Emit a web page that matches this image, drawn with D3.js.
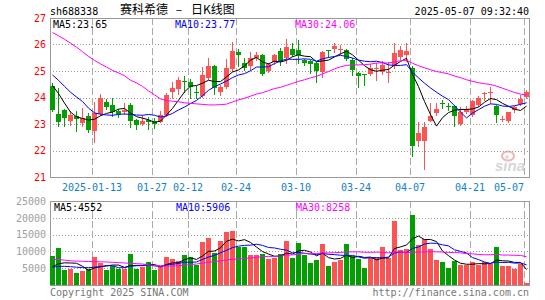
<!DOCTYPE html>
<html>
<head>
<meta charset="utf-8">
<script src="https://cdn.jsdelivr.net/npm/d3@7"></script>
<style>
  body { margin: 0; background: #fff; }
  svg { display: block; }
</style>
</head>
<body>
<div id="chart"></div>
<script>
// trading days shown on the chart
const dates = ['2025-01-02','2025-01-03','2025-01-06','2025-01-07','2025-01-08','2025-01-09','2025-01-10','2025-01-13','2025-01-14','2025-01-15',
  '2025-01-16','2025-01-17','2025-01-20','2025-01-21','2025-01-22','2025-01-23','2025-01-24','2025-01-27','2025-02-05','2025-02-06',
  '2025-02-07','2025-02-10','2025-02-11','2025-02-12','2025-02-13','2025-02-14','2025-02-17','2025-02-18','2025-02-19','2025-02-20',
  '2025-02-21','2025-02-24','2025-02-25','2025-02-26','2025-02-27','2025-02-28','2025-03-03','2025-03-04','2025-03-05','2025-03-06',
  '2025-03-07','2025-03-10','2025-03-11','2025-03-12','2025-03-13','2025-03-14','2025-03-17','2025-03-18','2025-03-19','2025-03-20',
  '2025-03-21','2025-03-24','2025-03-25','2025-03-26','2025-03-27','2025-03-28','2025-03-31','2025-04-01','2025-04-02','2025-04-03',
  '2025-04-07','2025-04-08','2025-04-09','2025-04-10','2025-04-11','2025-04-14','2025-04-15','2025-04-16','2025-04-17','2025-04-18',
  '2025-04-21','2025-04-22','2025-04-23','2025-04-24','2025-04-25','2025-04-28','2025-04-29','2025-04-30','2025-05-06','2025-05-07'];

const open = [24.42,23.39,23.54,23.10,23.29,23.06,23.29,22.71,23.40,23.82,
  23.72,23.49,23.45,23.72,23.16,23.01,23.16,23.12,23.10,23.34,
  24.22,24.33,24.62,24.60,24.22,24.06,24.75,25.19,24.22,24.40,
  25.06,25.70,25.30,25.19,25.48,25.60,24.98,25.35,25.75,25.48,
  25.83,25.79,25.42,25.38,25.29,24.98,25.80,25.81,25.80,25.79,
  25.41,24.91,24.89,24.91,25.10,24.97,24.92,25.19,25.51,25.60,
  25.12,22.35,22.35,23.14,23.41,23.78,23.68,23.69,23.01,23.44,
  23.35,23.72,24.14,24.18,23.69,23.14,23.10,23.54,23.76,24.04];

const high = [24.56,24.34,23.56,23.48,23.48,23.61,23.42,23.84,24.13,23.95,
  23.99,23.58,23.78,23.80,23.18,23.35,23.28,23.22,23.50,24.18,
  24.60,24.78,24.82,24.68,24.42,25.16,25.50,25.22,24.47,25.47,
  26.08,25.82,25.48,25.70,25.72,25.66,25.32,25.66,25.85,26.20,
  26.07,26.16,25.47,25.40,25.35,25.75,25.80,26.04,25.98,25.82,
  25.48,24.97,24.90,25.25,25.29,25.36,25.35,26.06,25.94,26.07,
  25.20,23.06,23.07,23.81,23.81,23.90,23.81,23.72,23.66,23.69,
  23.91,24.06,24.22,24.39,23.72,23.31,23.47,23.69,24.10,24.29];

const low = [23.48,22.91,22.92,22.97,22.72,22.91,22.68,22.33,23.35,23.55,
  23.30,23.28,23.38,22.90,22.80,22.98,22.80,22.84,23.06,23.30,
  24.00,24.15,24.22,24.00,23.97,24.03,24.70,24.12,24.10,24.35,
  25.00,25.20,25.05,25.04,25.40,24.85,24.95,25.25,25.22,25.32,
  25.55,25.29,25.22,24.92,24.60,24.78,25.52,25.72,25.66,25.40,
  24.85,24.41,24.47,24.85,24.66,24.90,24.60,25.10,25.45,25.39,
  21.80,22.16,21.29,23.10,23.35,23.60,23.52,22.91,22.98,23.40,
  23.30,23.68,23.90,23.81,23.06,23.10,23.08,23.47,23.72,24.00];

const close = [23.52,23.10,23.23,23.33,23.16,23.23,22.78,23.40,23.99,23.62,
  23.44,23.37,23.52,23.11,22.96,23.12,23.10,23.02,23.35,24.09,
  24.37,24.66,24.60,24.42,24.19,24.85,25.19,24.35,24.40,25.12,
  25.75,25.58,25.12,25.50,25.60,24.88,25.25,25.60,25.35,25.91,
  25.60,25.60,25.32,25.25,24.98,25.73,25.77,25.94,25.83,25.45,
  25.04,24.79,24.87,25.12,25.13,25.22,24.95,25.69,25.79,25.76,
  22.16,22.66,22.89,23.31,23.57,23.75,23.65,23.31,23.47,23.57,
  23.87,24.00,24.17,24.21,23.35,23.17,23.44,23.64,23.95,24.22];

const volume = [8600,11000,4450,4750,3550,4150,4750,8200,6650,4450,
  5650,4750,4750,9200,4750,5250,6850,4450,5650,8300,
  7700,7100,8900,8400,5950,12800,14000,9400,13100,15700,
  16000,11400,11300,8900,8900,9200,7800,8000,9200,13100,
  8000,12500,8900,6550,7450,12200,5650,6850,7450,12200,
  8600,7700,5050,8000,8000,11300,8000,19000,10400,10700,
  20800,11900,13700,10700,7450,6850,5050,7100,5950,5950,
  6850,5950,6850,6250,11300,5650,5650,4750,6250,700];

const ma5 = [24.45,24.15,23.79,23.45,23.27,23.21,23.15,23.18,23.31,23.40,
  23.45,23.56,23.59,23.41,23.28,23.22,23.16,23.06,23.11,23.34,
  23.59,23.90,24.21,24.43,24.45,24.54,24.65,24.60,24.60,24.78,
  24.96,25.04,25.19,25.41,25.51,25.34,25.27,25.37,25.34,25.40,
  25.54,25.61,25.56,25.54,25.35,25.38,25.41,25.53,25.65,25.74,
  25.61,25.41,25.20,25.05,24.99,25.03,25.06,25.22,25.36,25.48,
  24.87,24.41,23.85,23.36,22.92,23.24,23.43,23.52,23.55,23.55,
  23.57,23.64,23.82,23.96,23.92,23.78,23.67,23.56,23.51,23.68];

const ma10 = [24.85,24.65,24.42,24.20,24.02,23.85,23.60,23.42,23.37,23.34,
  23.33,23.36,23.38,23.36,23.34,23.33,23.36,23.33,23.26,23.31,
  23.40,23.53,23.64,23.77,23.89,24.07,24.27,24.41,24.51,24.62,
  24.75,24.85,24.90,25.01,25.15,25.15,25.16,25.28,25.38,25.45,
  25.44,25.44,25.46,25.44,25.37,25.46,25.51,25.55,25.59,25.55,
  25.49,25.41,25.37,25.35,25.37,25.32,25.23,25.21,25.21,25.24,
  24.95,24.74,24.54,24.36,24.20,24.05,23.92,23.69,23.45,23.23,
  23.41,23.54,23.67,23.76,23.74,23.68,23.66,23.69,23.74,23.80];

const ma30 = [26.45,26.33,26.20,26.05,25.90,25.73,25.55,25.40,25.27,25.15,
  25.02,24.93,24.82,24.65,24.55,24.42,24.25,24.10,23.95,23.88,
  23.86,23.84,23.80,23.78,23.76,23.74,23.72,23.72,23.73,23.75,
  23.83,23.91,23.97,24.05,24.13,24.18,24.26,24.34,24.38,24.46,
  24.53,24.61,24.67,24.74,24.80,24.89,24.98,25.08,25.16,25.21,
  25.23,25.23,25.24,25.26,25.30,25.31,25.30,25.34,25.39,25.41,
  25.29,25.20,25.12,25.05,24.98,24.94,24.89,24.81,24.75,24.67,
  24.61,24.56,24.52,24.49,24.43,24.35,24.27,24.19,24.13,24.09];

const volMa5 = [5500,6300,6600,6550,6470,5580,4330,5080,5460,5640,
  5940,5940,5250,5760,5820,5740,6160,6100,5390,6100,
  6590,6640,7530,8080,7610,8630,10010,10110,11050,13000,
  13640,13120,13500,12660,11300,9940,9220,8560,8620,9460,
  9220,10160,10340,9810,8680,9520,8150,7740,7920,8870,
  8150,8560,8200,8310,7470,8010,8070,10860,11340,11880,
  13780,14560,13500,13560,12910,10120,8750,7430,6480,6180,
  6180,6360,6310,6370,7440,7200,7140,6720,6720,4600];

const volMa10 = [5250,5550,5550,5450,5300,5200,5150,5300,5450,5800,
  5760,5135,5165,5610,5730,5840,6050,5675,5575,5960,
  6165,6400,6815,6735,6855,7610,8325,8820,9565,10305,
  11135,11565,11805,11855,12150,11790,11170,11030,10640,10380,
  9580,9690,9450,9215,9070,9370,9155,9040,8865,8775,
  8835,8355,7970,8115,8170,8080,8315,9530,9825,9675,
  10895,11315,12180,12450,12395,11950,11655,10465,10020,9545,
  8150,7555,6870,6425,6810,6690,6750,6515,6545,6020];

const volMa30 = [7600,7600,7400,7200,7100,7050,7000,6950,6900,6850,
  6750,6650,6550,6450,6350,6250,6050,5800,5650,5650,
  5650,5750,5900,6050,6250,6500,6750,6950,7200,7440,
  7687,7700,7928,8067,8245,8413,8515,8508,8593,8882,
  8960,9218,9357,9268,9358,9590,9550,9630,9690,9820,
  9850,9870,9742,9728,9797,9747,9547,9867,9777,9610,
  9770,9787,9867,9927,9878,9800,9708,9678,9570,9332,
  9293,9075,9007,8997,9125,8907,8907,8837,8797,8413];

const priceTicks = [21, 22, 23, 24, 25, 26, 27];
const priceGrid = [22, 23, 24, 25, 26];
const volTicks = [5000, 10000, 15000, 20000, 25000];
const volGrid = [5000, 10000, 15000, 20000];
const tickDates = ['2025-01-13','2025-01-27','2025-02-12','2025-02-24','2025-03-10','2025-03-24','2025-04-07','2025-04-21','2025-05-07'];

// values printed in the legends (last day)
const maNames = ['MA5', 'MA10', 'MA30'];
const priceMaLast = ['23.65', '23.77', '24.06'];
const volMaLast = ['4552', '5906', '8258'];

const stockCode = 'sh688338';
const titleParts = ['赛科希德', '–', '日K线图'];
const timeStamp = '2025-05-07 09:32:40';

// ---- layout
const width = 545, height = 300;
const left = 50, right = 529;
const priceTop = 18, priceBottom = 177;
const volTop = 201, volBottom = 285;

const upColor = '#ff5252';
const downColor = '#00a000';
const maColors = ['#000000', '#0000ff', '#ff00ff'];
const mono = '"DejaVu Sans Mono", monospace';

var svg = d3.select('#chart').append('svg')
  .attr('width', width)
  .attr('height', height)
  .style('background', '#fff');

const x = d3.scaleBand()
  .domain(dates)
  .range([left, right])
  .paddingInner(1 / 6)
  .paddingOuter(0);

const yPrice = d3.scaleLinear().domain([21, 27]).range([priceBottom, priceTop]);
const yVol = d3.scaleLinear().domain([0, 25000]).range([volBottom, volTop]);

const isUp = (i) => close[i] >= open[i];
const mid = (d) => x(d) + 2.5;

function drawFrame(top, bottom, grid, scale) {
  // dotted horizontal grid
  svg.append('g')
    .selectAll('line')
    .data(grid)
    .enter().append('line')
    .attr('x1', left)
    .attr('x2', right)
    .attr('y1', d => Math.round(scale(d)) + 0.5)
    .attr('y2', d => Math.round(scale(d)) + 0.5)
    .attr('stroke', '#999')
    .attr('stroke-dasharray', '1,2');

  // dashed date lines
  svg.append('g')
    .selectAll('line')
    .data(tickDates)
    .enter().append('line')
    .attr('x1', d => x(d) + 0.5)
    .attr('x2', d => x(d) + 0.5)
    .attr('y1', top)
    .attr('y2', bottom)
    .attr('stroke', '#aaa')
    .attr('stroke-dasharray', '7,3');

  svg.append('rect')
    .attr('x', left + 0.5)
    .attr('y', top + 0.5)
    .attr('width', right - left)
    .attr('height', bottom - top)
    .attr('fill', 'none')
    .attr('stroke', '#999');
}

drawFrame(priceTop, priceBottom, priceGrid, yPrice);
drawFrame(volTop, volBottom, volGrid, yVol);

// ---- axes labels
svg.append('g')
  .attr('transform', `translate(${left},0)`)
  .call(d3.axisLeft(yPrice).tickValues(priceTicks).tickSize(0).tickPadding(4).tickFormat(d3.format('d')))
  .call(g => g.select('.domain').remove())
  .attr('font-family', mono)
  .attr('font-size', 10)
  .selectAll('text')
  .attr('fill', '#f00');

svg.append('g')
  .attr('transform', `translate(${left},0)`)
  .call(d3.axisLeft(yVol).tickValues(volTicks).tickSize(0).tickPadding(4).tickFormat(d3.format('d')))
  .call(g => g.select('.domain').remove())
  .attr('font-family', mono)
  .attr('font-size', 10)
  .selectAll('text')
  .attr('fill', '#a0a0a0');

// last date label is pulled inside the frame
svg.append('g')
  .selectAll('text')
  .data(tickDates)
  .enter().append('text')
  .attr('x', d => x(d))
  .attr('y', 191)
  .attr('text-anchor', (d, i) => i === tickDates.length - 1 ? 'end' : 'middle')
  .attr('font-family', mono)
  .attr('font-size', 10)
  .attr('fill', '#1080d0')
  .text((d, i) => i === 0 ? d : d.slice(5));

// ---- candles
const candles = svg.append('g')
  .selectAll('g')
  .data(dates)
  .enter().append('g')
  .attr('fill', (d, i) => isUp(i) ? upColor : downColor)
  .attr('stroke', (d, i) => isUp(i) ? upColor : downColor);

candles.append('line')
  .attr('x1', mid)
  .attr('x2', mid)
  .attr('y1', (d, i) => Math.round(yPrice(high[i])))
  .attr('y2', (d, i) => Math.round(yPrice(low[i])) + 1);

candles.append('rect')
  .attr('stroke', 'none')
  .attr('x', d => x(d))
  .attr('width', x.bandwidth())
  .attr('y', (d, i) => Math.round(yPrice(Math.max(open[i], close[i]))))
  .attr('height', (d, i) => Math.max(1, Math.round(Math.abs(yPrice(open[i]) - yPrice(close[i])))));

// ---- volume bars
svg.append('g')
  .selectAll('rect')
  .data(dates)
  .enter().append('rect')
  .attr('x', d => x(d))
  .attr('width', x.bandwidth())
  .attr('y', (d, i) => Math.round(yVol(volume[i])))
  .attr('height', (d, i) => volBottom - Math.round(yVol(volume[i])))
  .attr('fill', (d, i) => isUp(i) ? upColor : downColor);

// ---- moving averages
const maLine = (scale) => d3.line()
  .x((d, i) => mid(dates[i]))
  .y(d => scale(d));

[ma5, ma10, ma30].forEach((series, k) => {
  svg.append('path')
    .attr('d', maLine(yPrice)(series))
    .attr('fill', 'none')
    .attr('stroke', maColors[k])
    .attr('stroke-width', 1);
});

[volMa5, volMa10, volMa30].forEach((series, k) => {
  svg.append('path')
    .attr('d', maLine(yVol)(series))
    .attr('fill', 'none')
    .attr('stroke', maColors[k])
    .attr('stroke-width', 1);
});

// ---- legends
const legendX = [53, 175, 295];

maNames.forEach((name, k) => {
  svg.append('text')
    .attr('x', legendX[k])
    .attr('y', 28)
    .attr('font-family', mono)
    .attr('font-size', 10)
    .attr('fill', maColors[k])
    .text(name + ':' + priceMaLast[k]);

  svg.append('text')
    .attr('x', legendX[k] + 1)
    .attr('y', 211)
    .attr('font-family', mono)
    .attr('font-size', 10)
    .attr('fill', maColors[k])
    .text(name + ':' + volMaLast[k]);
});

// ---- header
svg.append('text')
  .attr('x', 50)
  .attr('y', 15)
  .attr('font-family', mono)
  .attr('font-size', 10)
  .attr('fill', '#000')
  .text(stockCode);

const titleX = [120, 179, 191];
const titleAnchor = ['start', 'middle', 'start'];
svg.append('g')
  .selectAll('text')
  .data(titleParts)
  .enter().append('text')
  .attr('x', (d, i) => titleX[i])
  .attr('y', 14)
  .attr('text-anchor', (d, i) => titleAnchor[i])
  .attr('font-family', '"Noto Sans CJK SC", sans-serif')
  .attr('font-size', 12)
  .attr('fill', '#000')
  .text(d => d);

svg.append('text')
  .attr('x', right)
  .attr('y', 15)
  .attr('text-anchor', 'end')
  .attr('font-family', mono)
  .attr('font-size', 10)
  .attr('fill', '#000')
  .text(timeStamp);

// ---- footer
svg.append('text')
  .attr('x', 50)
  .attr('y', 296)
  .attr('font-family', mono)
  .attr('font-size', 10)
  .attr('fill', '#777')
  .text('Copyright 2025 SINA.COM');

svg.append('text')
  .attr('x', right)
  .attr('y', 296)
  .attr('text-anchor', 'end')
  .attr('font-family', mono)
  .attr('font-size', 10)
  .attr('fill', '#777')
  .text('http://finance.sina.com.cn');

// sina watermark
const logo = svg.append('g').attr('opacity', 0.6);
logo.append('ellipse')
  .attr('cx', 508).attr('cy', 156)
  .attr('rx', 6).attr('ry', 4.5)
  .attr('fill', 'none')
  .attr('stroke', '#f08080')
  .attr('stroke-width', 2);
logo.append('circle')
  .attr('cx', 507).attr('cy', 157)
  .attr('r', 1.8)
  .attr('fill', '#c0c0c0');
logo.append('text')
  .attr('x', 495)
  .attr('y', 171)
  .attr('font-family', '"Liberation Sans", sans-serif')
  .attr('font-size', 15)
  .attr('font-weight', 'bold')
  .attr('font-style', 'italic')
  .attr('fill', '#bbb')
  .text('sina');
</script>
</body>
</html>
